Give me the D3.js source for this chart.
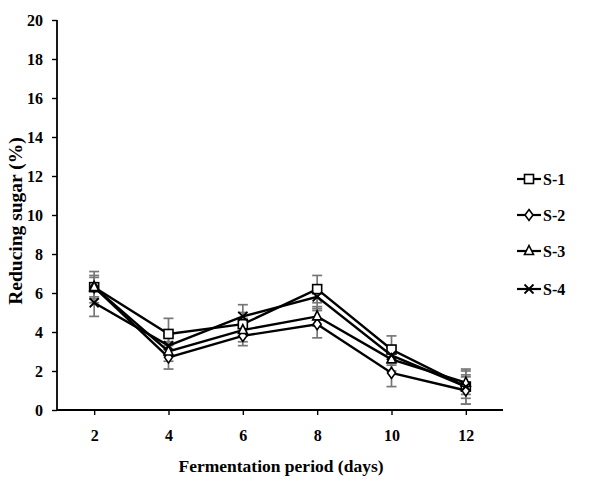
<!DOCTYPE html>
<html><head><meta charset="utf-8">
<script src="https://cdn.jsdelivr.net/npm/d3@7"></script>
<style>body{margin:0;background:#fff}svg{display:block}text{font-family:"Liberation Serif","Times New Roman",serif;font-weight:bold}</style>
</head><body><svg id="c" width="601" height="480"></svg>
<script>
const days = ["2","4","6","8","10","12"];
const yTicks = [0,2,4,6,8,10,12,14,16,18,20];
const seriesNames = ["S-1","S-2","S-3","S-4"];
const s1 = [6.3,3.9,4.4,6.2,3.1,1.2];
const s2 = [6.3,2.7,3.8,4.4,1.9,1.0];
const s3 = [6.3,3.0,4.1,4.8,2.6,1.4];
const s4 = [5.5,3.3,4.8,5.8,2.8,1.2];
const e1 = [0.8,0.8,0.6,0.7,0.7,0.9];
const e2 = [0.5,0.6,0.5,0.7,0.7,0.7];
const e3 = [0.6,0.5,0.6,0.5,0.6,0.6];
const e4 = [0.7,0.5,0.6,0.6,0.5,0.6];
const markers = ["square","diamond","triangle","cross"];

const values=[s1,s2,s3,s4], errs=[e1,e2,e3,e4];
const svg=d3.select("#c");
const L=57,R=503,T=20,B=410;
const x=d3.scalePoint().domain(days).range([L,R]).padding(0.5);
const y=d3.scaleLinear().domain([0,20]).range([B,T]);

// axes
const ya=svg.append("g").attr("transform",`translate(${L},0)`)
 .call(d3.axisLeft(y).tickValues(yTicks).tickSize(5).tickPadding(9).tickFormat(d3.format("d")));
const xa=svg.append("g").attr("transform",`translate(0,${B})`)
 .call(d3.axisBottom(x).tickSize(5).tickPadding(15));
[ya,xa].forEach(g=>{g.select(".domain").attr("stroke","#000").attr("stroke-width",1.8);
 g.selectAll(".tick line").attr("stroke","#000").attr("stroke-width",1.4);
 g.selectAll("text").attr("font-size",16).attr("fill","#000").style("font-family","Liberation Serif").style("font-weight","bold");});
ya.select(".domain").attr("d",`M0,${T}V${B}`);
xa.select(".domain").attr("d",`M${L},0H${R}`);

// titles
svg.append("text").attr("x",281).attr("y",472).attr("text-anchor","middle").attr("font-size",17.5).text("Fermentation period (days)");
svg.append("text").attr("transform","translate(22,221) rotate(-90)").attr("text-anchor","middle").attr("font-size",19.5).text("Reducing sugar (%)");

// error bars
const eg=svg.append("g").attr("stroke","#777").attr("stroke-width",1.7);
values.forEach((vals,si)=>{
  vals.forEach((v,i)=>{
    const cx=x(days[i]), lo=y(v-errs[si][i]), hi=y(v+errs[si][i]);
    eg.append("line").attr("x1",cx).attr("x2",cx).attr("y1",lo).attr("y2",hi);
    eg.append("line").attr("x1",cx-5).attr("x2",cx+5).attr("y1",lo).attr("y2",lo);
    eg.append("line").attr("x1",cx-5).attr("x2",cx+5).attr("y1",hi).attr("y2",hi);
  });
});

function drawMarker(g,type,cx,cy){
  if(type==="square") g.append("rect").attr("x",cx-4.5).attr("y",cy-4.5).attr("width",9).attr("height",9).attr("fill","#fff").attr("stroke","#000").attr("stroke-width",1.6);
  else if(type==="diamond") g.append("path").attr("d",`M${cx},${cy-5.5}L${cx+4},${cy}L${cx},${cy+5.5}L${cx-4},${cy}Z`).attr("fill","#fff").attr("stroke","#000").attr("stroke-width",1.6);
  else if(type==="triangle") g.append("path").attr("d",`M${cx},${cy-5.5}L${cx+4.5},${cy+3.5}L${cx-4.5},${cy+3.5}Z`).attr("fill","#fff").attr("stroke","#000").attr("stroke-width",1.6);
  else { g.append("path").attr("d",`M${cx-4.5},${cy-4.5}L${cx+4.5},${cy+4.5}M${cx+4.5},${cy-4.5}L${cx-4.5},${cy+4.5}`).attr("stroke","#000").attr("stroke-width",1.8); }
}

const line=d3.line().x((d,i)=>x(days[i])).y(d=>y(d));
values.forEach((vals,si)=>{
  svg.append("path").attr("d",line(vals)).attr("fill","none").attr("stroke","#000").attr("stroke-width",2.4);
});
values.forEach((vals,si)=>{
  const g=svg.append("g");
  vals.forEach((v,i)=>drawMarker(g,markers[si],x(days[i]),y(v)));
});

// legend
const ly=[179,215,251,289];
seriesNames.forEach((n,i)=>{
  const g=svg.append("g");
  g.append("line").attr("x1",517).attr("x2",541).attr("y1",ly[i]).attr("y2",ly[i]).attr("stroke","#000").attr("stroke-width",2.2);
  drawMarker(g,markers[i],529,ly[i]);
  g.append("text").attr("x",543).attr("y",ly[i]+5.5).attr("font-size",16).text(n);
});
</script></body></html>
